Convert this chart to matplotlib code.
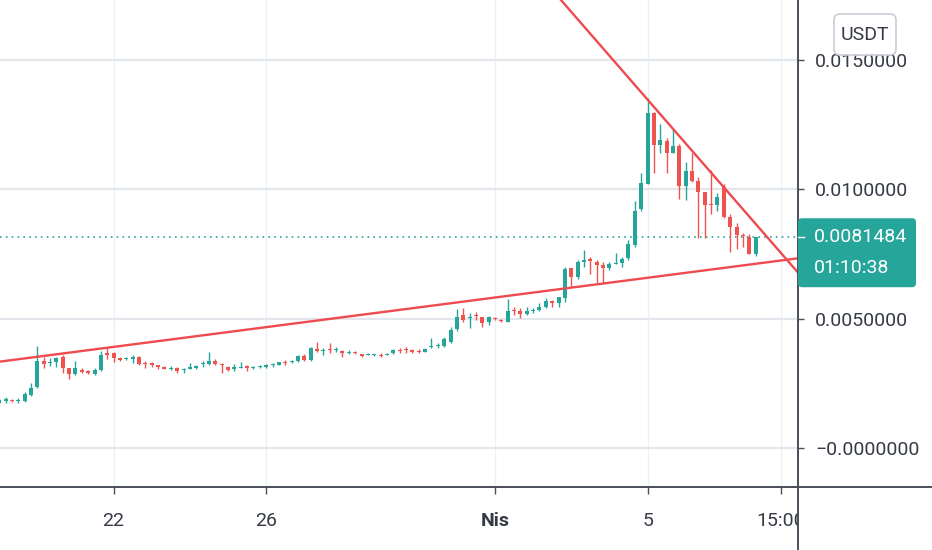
import numpy as np
import pandas as pd
import matplotlib
matplotlib.use('Agg')
import matplotlib.pyplot as plt
import matplotlib.dates as mdates
from matplotlib.lines import Line2D
from matplotlib.patches import FancyBboxPatch
from matplotlib.transforms import Bbox, TransformedBbox, IdentityTransform

plt.rcParams['font.family'] = ['Roboto', 'DejaVu Sans']

# 4h candles, local time (UTC+3)
times = pd.date_range('2021-03-19 03:00', periods=120, freq='4h')

opens = [
    .00174, .00182, .00186, .00182, .00182, .00205, .00236, .00336, .00327, .00332,
    .00352, .00309, .00286, .00302, .00298, .00286, .00302, .00367, .00367, .00348,
    .00344, .00346, .00352, .00329, .00327, .00321, .00313, .00305, .00310, .00300,
    .00307, .00309, .00323, .00324, .00336, .00323, .00314, .00304, .00311, .00317,
    .00309, .00313, .00315, .00319, .00321, .00333, .00332, .00336, .00356, .00340,
    .00382, .00374, .00383, .00379, .00376, .00369, .00370, .00362, .00360, .00358,
    .00360, .00360, .00366, .00378, .00381, .00377, .00376, .00372, .00390, .00394,
    .00394, .00411, .00459, .00514, .00503, .00514, .00505, .00487, .00503, .00494,
    .00488, .00532, .00531, .00518, .00529, .00534, .00546, .00568, .00559, .00579,
    .00695, .00660, .00720, .00731, .00718, .00707, .00695, .00712, .00714, .00733,
    .00785, .00923, .01021, .01296, .01171, .01188, .01142, .01168, .01014, .01072,
    .01033, .00989, .00943, .00939, .01008, .00894, .00853, .00823, .00817, .00750,
]
highs = [
    .00193, .00197, .00191, .00193, .00216, .00251, .00394, .00352, .00348, .00352,
    .00360, .00311, .00336, .00309, .00302, .00309, .00375, .00390, .00371, .00352,
    .00352, .00360, .00356, .00336, .00334, .00322, .00317, .00317, .00314, .00310,
    .00330, .00321, .00336, .00372, .00343, .00329, .00317, .00324, .00332, .00321,
    .00317, .00321, .00323, .00327, .00334, .00340, .00340, .00360, .00363, .00389,
    .00411, .00385, .00406, .00392, .00378, .00379, .00375, .00363, .00369, .00365,
    .00366, .00367, .00383, .00388, .00390, .00383, .00382, .00387, .00424, .00405,
    .00430, .00469, .00536, .00540, .00521, .00527, .00506, .00510, .00506, .00499,
    .00575, .00546, .00541, .00546, .00540, .00559, .00579, .00572, .00585, .00699,
    .00697, .00727, .00765, .00740, .00727, .00720, .00720, .00753, .00740, .00804,
    .00955, .01062, .01352, .01298, .01251, .01197, .01236, .01175, .01107, .01139,
    .01047, .00991, .01075, .00987, .01021, .00905, .00871, .00832, .00827, .00817,
]
lows = [
    .00166, .00174, .00176, .00174, .00178, .00201, .00232, .00309, .00317, .00313,
    .00290, .00267, .00282, .00290, .00286, .00282, .00298, .00344, .00332, .00336,
    .00340, .00329, .00321, .00309, .00313, .00305, .00305, .00302, .00291, .00291,
    .00305, .00305, .00314, .00321, .00321, .00291, .00298, .00299, .00310, .00299,
    .00305, .00309, .00311, .00315, .00319, .00321, .00329, .00332, .00338, .00338,
    .00372, .00360, .00367, .00372, .00353, .00365, .00363, .00352, .00358, .00356,
    .00353, .00358, .00363, .00366, .00368, .00369, .00369, .00371, .00388, .00385,
    .00392, .00407, .00453, .00488, .00463, .00495, .00468, .00476, .00495, .00487,
    .00486, .00514, .00503, .00514, .00521, .00531, .00540, .00546, .00546, .00566,
    .00624, .00652, .00701, .00673, .00637, .00637, .00688, .00711, .00701, .00727,
    .00778, .00917, .01019, .01062, .01139, .01062, .01139, .00961, .00959, .01030,
    .00813, .00813, .00903, .00917, .00888, .00757, .00768, .00778, .00749, .00744,
]
closes = [
    .00186, .00188, .00180, .00186, .00209, .00232, .00336, .00325, .00332, .00348,
    .00309, .00286, .00309, .00294, .00290, .00302, .00360, .00360, .00348, .00342,
    .00348, .00352, .00325, .00323, .00321, .00313, .00307, .00311, .00298, .00303,
    .00313, .00317, .00327, .00338, .00325, .00319, .00302, .00314, .00315, .00308,
    .00313, .00317, .00319, .00323, .00331, .00329, .00336, .00356, .00340, .00385,
    .00376, .00378, .00379, .00383, .00366, .00373, .00366, .00357, .00363, .00361,
    .00356, .00363, .00379, .00374, .00377, .00373, .00372, .00383, .00394, .00397,
    .00420, .00456, .00508, .00495, .00508, .00510, .00484, .00506, .00499, .00490,
    .00530, .00528, .00518, .00531, .00533, .00546, .00568, .00562, .00583, .00691,
    .00660, .00720, .00727, .00723, .00707, .00695, .00711, .00716, .00731, .00789,
    .00917, .01026, .01296, .01171, .01191, .01142, .01168, .01014, .01072, .01033,
    .00989, .00939, .00939, .00972, .00894, .00853, .00823, .00819, .00750, .0081484,
]

countdown = '01:10:38'
quote = 'USDT'

y_ticks = [0.0, 0.005, 0.010, 0.015]
y_labels = ['\u22120.0000000', '0.0050000', '0.0100000', '0.0150000']
x_ticks = ['2021-03-22 03:00', '2021-03-26 03:00', '2021-04-01 03:00',
           '2021-04-05 03:00', '2021-04-08 15:00']
x_labels = ['22', '26', 'Nis', '5', '15:00']

# hand drawn trend lines, two anchors each
support_t = ['2021-03-19 03:00', '2021-04-08 15:00']
support_p = [0.003336, 0.007249]
resist_t = ['2021-04-05 03:00', '2021-04-08 15:00']
resist_p = [0.013469, 0.007535]

UP = '#26a69a'
DOWN = '#ef5350'
TREND = '#ee4a4f'
TEXT = '#363a45'
AXIS = '#4a4e59'

W, H = 932, 550
AX_R, AX_B = 798, 487        # price scale and time scale edges, px
PX_DAY = 38.14               # horizontal zoom
PX_UNIT = 25867.0            # vertical zoom

fig = plt.figure(figsize=(W / 100, H / 100), dpi=100)
ax = fig.add_axes([0, 1 - AX_B / H, AX_R / W, AX_B / H])

x = mdates.date2num(times)
o = np.array(opens)
hi = np.array(highs)
lo = np.array(lows)
c = np.array(closes)
cols = np.where(c >= o, UP, DOWN)

ax.vlines(x, lo, hi, colors=cols, lw=1, zorder=2)
body = np.maximum(np.abs(c - o), 0.00004)
ax.bar(x, body, bottom=np.minimum(o, c), width=0.105, color=cols, lw=0, zorder=3)

for tt, pp in [(support_t, support_p), (resist_t, resist_p)]:
    xs = mdates.date2num(pd.to_datetime(tt))
    ax.axline((xs[0], pp[0]), (xs[1], pp[1]), color=TREND, lw=1.7, zorder=4)

ax.axhline(c[-1], color=UP, lw=1.2, ls=(0, (1, 2.5)), zorder=1)

ref = mdates.date2num(pd.Timestamp(x_ticks[0]))
ax.set_xlim(ref - 113.6 / PX_DAY, ref + (AX_R - 113.6) / PX_DAY)
ax.set_ylim(-39 / PX_UNIT, 448 / PX_UNIT)

ax.set_yticks(y_ticks)
ax.set_yticklabels(y_labels)
ax.set_xticks(mdates.date2num(pd.to_datetime(x_ticks)))
ax.set_xticklabels(x_labels)
ax.get_xticklabels()[2].set_fontweight('bold')

ax.yaxis.grid(True, color='#e3e6eb', lw=1.6)
ax.xaxis.grid(True, color='#edf0f4', lw=1.0)
ax.set_axisbelow(True)
for s in ax.spines.values():
    s.set_visible(False)

ax.yaxis.tick_right()
ax.tick_params(axis='y', length=4.5, width=1, color=AXIS, pad=8,
               labelsize=14, labelcolor=TEXT)
ax.tick_params(axis='x', length=5, width=1, color=AXIS, pad=13,
               labelsize=14, labelcolor=TEXT)

clip = TransformedBbox(Bbox([[0, 0], [AX_R / W, 1]]), fig.transFigure)
for lab in ax.get_xticklabels():
    lab.set_clip_box(clip)
    lab.set_clip_on(True)

fig.add_artist(Line2D([0, 1], [1 - AX_B / H] * 2, color=AXIS, lw=1.4))
fig.add_artist(Line2D([AX_R / W] * 2, [0, 1], color=AXIS, lw=1.4))

# quote currency button
fig.add_artist(FancyBboxPatch((834, H - 55), 62, 41,
                              boxstyle='round,pad=0,rounding_size=6',
                              fc='white', ec='#c9cdd4', lw=1.2,
                              transform=IdentityTransform(), zorder=10))
fig.text(865 / W, 1 - 35 / H, quote, ha='center', va='center', fontsize=14,
         color=TEXT, zorder=11)

# last price tag on the price scale
py = ax.transData.transform((0, c[-1]))[1]
fig.add_artist(FancyBboxPatch((AX_R, py - 50), 118, 69,
                              boxstyle='round,pad=0,rounding_size=4',
                              fc=UP, ec=UP, lw=0,
                              transform=IdentityTransform(), zorder=10))
fig.add_artist(Line2D([AX_R, AX_R + 6], [py, py], color='white', lw=1,
                      transform=IdentityTransform(), zorder=11))
fig.text(814 / W, py / H, f'{c[-1]:.7f}', ha='left', va='center',
         fontsize=14, color='white', zorder=12)
fig.text(814 / W, (py - 31) / H, countdown, ha='left', va='center',
         fontsize=14, color='white', zorder=12)

fig.savefig('out.png', dpi=100)
